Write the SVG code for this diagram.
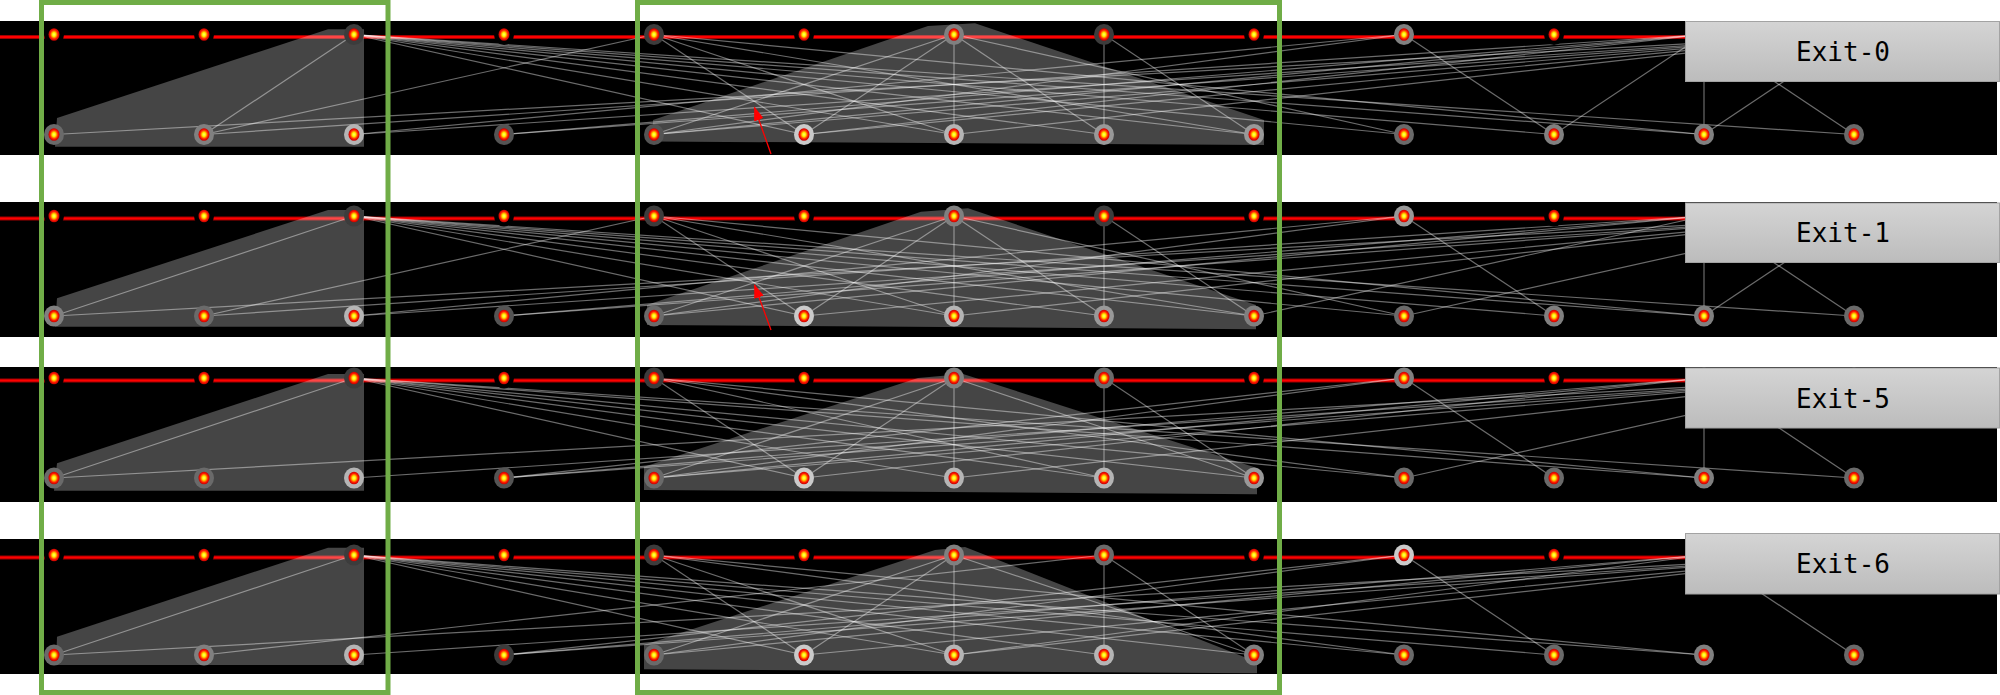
<svg xmlns="http://www.w3.org/2000/svg" xmlns:xlink="http://www.w3.org/1999/xlink" width="2000" height="695" viewBox="0 0 2000 695">
<defs>
<style>
.band{fill:#000}
.rl1{stroke:#a00000;stroke-width:4;fill:none}
.rl2{stroke:#ff0000;stroke-width:2;fill:none}
.reg{fill:#fff;fill-opacity:.27}
.e path{stroke:#fff;stroke-opacity:.42;stroke-width:1.2;fill:none}
.k{fill:#000}
.h1{fill:#3c3c3c}
.h2{fill:#545454}
.h3{fill:#6a6a6a}
.h4{fill:#808080}
.h5{fill:#999}
.h6{fill:#b5b5b5}
.h7{fill:#cacaca}
.box{fill:url(#bx);stroke:#a3a3a3;stroke-width:1}
.lbl{font-family:"DejaVu Sans Mono","Liberation Mono",monospace;font-size:26px;fill:#000;text-anchor:middle}
.frame{fill:none;stroke:#70ad47;stroke-width:5}
.arr{stroke:#ff0000;stroke-width:1.3;fill:none}
</style>
<radialGradient id="cg">
<stop offset="0" stop-color="#ffff70"/>
<stop offset="0.32" stop-color="#ffee00"/>
<stop offset="0.5" stop-color="#ff8a00"/>
<stop offset="0.72" stop-color="#ff1a00"/>
<stop offset="1" stop-color="#c00000"/>
</radialGradient>
<linearGradient id="bx" x1="0" y1="0" x2="0" y2="1">
<stop offset="0" stop-color="#d4d4d4"/>
<stop offset="1" stop-color="#bcbcbc"/>
</linearGradient>
<ellipse id="core" cx="0" cy="0" rx="5.5" ry="6.3" fill="url(#cg)"/>
<marker id="ah" markerWidth="14" markerHeight="10" refX="13" refY="5" orient="auto" markerUnits="userSpaceOnUse">
<path d="M0,0 L14,5 L0,10 z" fill="#ff0000"/>
</marker>
</defs>
<rect x="0" y="0" width="2000" height="695" fill="#fff"/>

<!-- Panel 1 -->
<g id="panel-1" transform="translate(0,34.5)">
<rect class="band" x="0" y="-13.5" width="1997" height="134"/>
<path class="rl1" d="M0 2.5H1690"/><path class="rl2" d="M0 2.5H1690"/>
<polygon class="reg" points="57,83.5 328,-5.2 364,-5.2 364,112.2 55,112.2"/>
<polygon class="reg" points="653,85.5 928,-8.5 975,-11.2 1264,85.5 1264,110.5 653,107"/>
<g id="connectors-1" class="e">
<path d="M354 0 204 100"/><path d="M354 0 804 100"/><path d="M354 0 954 100"/><path d="M354 0 1104 100"/><path d="M354 0 1254 100"/><path d="M354 0 1404 100"/><path d="M354 0 1554 100"/><path d="M354 0 1704 100"/><path d="M354 0 1854 100"/>
<path d="M1854 0 54 100"/><path d="M654 0 204 100"/><path d="M1704 0 204 100"/><path d="M1404 0 354 100"/><path d="M1854 0 354 100"/><path d="M1704 0 504 100"/><path d="M1854 0 504 100"/>
<path d="M654 0 804 100"/><path d="M654 0 954 100"/><path d="M654 0 1254 100"/><path d="M654 0 1704 100"/>
<path d="M954 0 654 100"/><path d="M954 0 804 100"/><path d="M954 0 954 100"/><path d="M954 0 1104 100"/><path d="M954 0 1404 100"/>
<path d="M1104 0 1104 100"/><path d="M1104 0 1254 100"/>
<path d="M1404 0 654 100"/><path d="M1704 0 654 100"/><path d="M1854 0 654 100"/><path d="M1704 0 804 100"/><path d="M1854 0 804 100"/><path d="M1854 0 954 100"/><path d="M1704 0 1554 100"/>
<path d="M1404 0 1554 100"/><path d="M1704 0 1704 100"/><path d="M1704 0 1854 100"/><path d="M1854 0 1704 100"/>
</g>
<g id="p1-t0"><ellipse class="k" cx="54" cy="0" rx="10" ry="10.5"/><use xlink:href="#core" x="54" y="0"/></g>
<g id="p1-t1"><ellipse class="k" cx="204" cy="0" rx="10" ry="10.5"/><use xlink:href="#core" x="204" y="0"/></g>
<g id="p1-t2"><ellipse class="h1" cx="354" cy="0" rx="10" ry="10.5"/><use xlink:href="#core" x="354" y="0"/></g>
<g id="p1-t3"><ellipse class="k" cx="504" cy="0" rx="10" ry="10.5"/><use xlink:href="#core" x="504" y="0"/></g>
<g id="p1-t4"><ellipse class="h1" cx="654" cy="0" rx="10" ry="10.5"/><use xlink:href="#core" x="654" y="0"/></g>
<g id="p1-t5"><ellipse class="k" cx="804" cy="0" rx="10" ry="10.5"/><use xlink:href="#core" x="804" y="0"/></g>
<g id="p1-t6"><ellipse class="h4" cx="954" cy="0" rx="10" ry="10.5"/><use xlink:href="#core" x="954" y="0"/></g>
<g id="p1-t7"><ellipse class="h1" cx="1104" cy="0" rx="10" ry="10.5"/><use xlink:href="#core" x="1104" y="0"/></g>
<g id="p1-t8"><ellipse class="k" cx="1254" cy="0" rx="10" ry="10.5"/><use xlink:href="#core" x="1254" y="0"/></g>
<g id="p1-t9"><ellipse class="h4" cx="1404" cy="0" rx="10" ry="10.5"/><use xlink:href="#core" x="1404" y="0"/></g>
<g id="p1-t10"><ellipse class="k" cx="1554" cy="0" rx="10" ry="10.5"/><use xlink:href="#core" x="1554" y="0"/></g>
<g id="p1-t11"><ellipse class="h1" cx="1704" cy="0" rx="10" ry="10.5"/><use xlink:href="#core" x="1704" y="0"/></g>
<g id="p1-t12"><ellipse class="h1" cx="1854" cy="0" rx="10" ry="10.5"/><use xlink:href="#core" x="1854" y="0"/></g>
<g id="p1-b0"><ellipse class="h3" cx="54" cy="100" rx="10" ry="10.5"/><use xlink:href="#core" x="54" y="100"/></g>
<g id="p1-b1"><ellipse class="h4" cx="204" cy="100" rx="10" ry="10.5"/><use xlink:href="#core" x="204" y="100"/></g>
<g id="p1-b2"><ellipse class="h6" cx="354" cy="100" rx="10" ry="10.5"/><use xlink:href="#core" x="354" y="100"/></g>
<g id="p1-b3"><ellipse class="h2" cx="504" cy="100" rx="10" ry="10.5"/><use xlink:href="#core" x="504" y="100"/></g>
<g id="p1-b4"><ellipse class="h2" cx="654" cy="100" rx="10" ry="10.5"/><use xlink:href="#core" x="654" y="100"/></g>
<g id="p1-b5"><ellipse class="h7" cx="804" cy="100" rx="10" ry="10.5"/><use xlink:href="#core" x="804" y="100"/></g>
<g id="p1-b6"><ellipse class="h6" cx="954" cy="100" rx="10" ry="10.5"/><use xlink:href="#core" x="954" y="100"/></g>
<g id="p1-b7"><ellipse class="h5" cx="1104" cy="100" rx="10" ry="10.5"/><use xlink:href="#core" x="1104" y="100"/></g>
<g id="p1-b8"><ellipse class="h5" cx="1254" cy="100" rx="10" ry="10.5"/><use xlink:href="#core" x="1254" y="100"/></g>
<g id="p1-b9"><ellipse class="h3" cx="1404" cy="100" rx="10" ry="10.5"/><use xlink:href="#core" x="1404" y="100"/></g>
<g id="p1-b10"><ellipse class="h4" cx="1554" cy="100" rx="10" ry="10.5"/><use xlink:href="#core" x="1554" y="100"/></g>
<g id="p1-b11"><ellipse class="h4" cx="1704" cy="100" rx="10" ry="10.5"/><use xlink:href="#core" x="1704" y="100"/></g>
<g id="p1-b12"><ellipse class="h3" cx="1854" cy="100" rx="10" ry="10.5"/><use xlink:href="#core" x="1854" y="100"/></g>
</g>

<!-- Panel 2 -->
<g id="panel-2" transform="translate(0,216)">
<rect class="band" x="0" y="-14" width="1997" height="135"/>
<path class="rl1" d="M0 2.5H1690"/><path class="rl2" d="M0 2.5H1690"/>
<polygon class="reg" points="57,82.3 328,-6 364,-6 364,110.7 55,110.7"/>
<polygon class="reg" points="647,89 921,-4.3 968,-7.7 1256,89 1256,113.3 647,109"/>
<g id="connectors-2" class="e">
<path d="M354 0 54 100"/><path d="M354 0 804 100"/><path d="M354 0 954 100"/><path d="M354 0 1104 100"/><path d="M354 0 1254 100"/><path d="M354 0 1404 100"/><path d="M354 0 1554 100"/><path d="M354 0 1704 100"/><path d="M354 0 1854 100"/>
<path d="M1854 0 54 100"/><path d="M654 0 204 100"/><path d="M1704 0 204 100"/><path d="M1404 0 354 100"/><path d="M1854 0 354 100"/><path d="M1704 0 504 100"/><path d="M1854 0 504 100"/>
<path d="M654 0 804 100"/><path d="M654 0 954 100"/><path d="M654 0 1254 100"/><path d="M654 0 1704 100"/>
<path d="M954 0 654 100"/><path d="M954 0 804 100"/><path d="M954 0 954 100"/><path d="M954 0 1104 100"/><path d="M954 0 1404 100"/>
<path d="M1104 0 1104 100"/><path d="M1104 0 1254 100"/>
<path d="M1404 0 654 100"/><path d="M1704 0 654 100"/><path d="M1854 0 804 100"/><path d="M1854 0 954 100"/><path d="M1704 0 1254 100"/>
<path d="M1404 0 1554 100"/><path d="M1854 0 1404 100"/><path d="M1704 0 1704 100"/><path d="M1704 0 1854 100"/><path d="M1854 0 1704 100"/>
</g>
<g id="p2-t0"><ellipse class="k" cx="54" cy="0" rx="10" ry="10.5"/><use xlink:href="#core" x="54" y="0"/></g>
<g id="p2-t1"><ellipse class="k" cx="204" cy="0" rx="10" ry="10.5"/><use xlink:href="#core" x="204" y="0"/></g>
<g id="p2-t2"><ellipse class="h1" cx="354" cy="0" rx="10" ry="10.5"/><use xlink:href="#core" x="354" y="0"/></g>
<g id="p2-t3"><ellipse class="k" cx="504" cy="0" rx="10" ry="10.5"/><use xlink:href="#core" x="504" y="0"/></g>
<g id="p2-t4"><ellipse class="h1" cx="654" cy="0" rx="10" ry="10.5"/><use xlink:href="#core" x="654" y="0"/></g>
<g id="p2-t5"><ellipse class="k" cx="804" cy="0" rx="10" ry="10.5"/><use xlink:href="#core" x="804" y="0"/></g>
<g id="p2-t6"><ellipse class="h4" cx="954" cy="0" rx="10" ry="10.5"/><use xlink:href="#core" x="954" y="0"/></g>
<g id="p2-t7"><ellipse class="h1" cx="1104" cy="0" rx="10" ry="10.5"/><use xlink:href="#core" x="1104" y="0"/></g>
<g id="p2-t8"><ellipse class="k" cx="1254" cy="0" rx="10" ry="10.5"/><use xlink:href="#core" x="1254" y="0"/></g>
<g id="p2-t9"><ellipse class="h5" cx="1404" cy="0" rx="10" ry="10.5"/><use xlink:href="#core" x="1404" y="0"/></g>
<g id="p2-t10"><ellipse class="k" cx="1554" cy="0" rx="10" ry="10.5"/><use xlink:href="#core" x="1554" y="0"/></g>
<g id="p2-t11"><ellipse class="h1" cx="1704" cy="0" rx="10" ry="10.5"/><use xlink:href="#core" x="1704" y="0"/></g>
<g id="p2-t12"><ellipse class="h1" cx="1854" cy="0" rx="10" ry="10.5"/><use xlink:href="#core" x="1854" y="0"/></g>
<g id="p2-b0"><ellipse class="h4" cx="54" cy="100" rx="10" ry="10.5"/><use xlink:href="#core" x="54" y="100"/></g>
<g id="p2-b1"><ellipse class="h3" cx="204" cy="100" rx="10" ry="10.5"/><use xlink:href="#core" x="204" y="100"/></g>
<g id="p2-b2"><ellipse class="h6" cx="354" cy="100" rx="10" ry="10.5"/><use xlink:href="#core" x="354" y="100"/></g>
<g id="p2-b3"><ellipse class="h2" cx="504" cy="100" rx="10" ry="10.5"/><use xlink:href="#core" x="504" y="100"/></g>
<g id="p2-b4"><ellipse class="h3" cx="654" cy="100" rx="10" ry="10.5"/><use xlink:href="#core" x="654" y="100"/></g>
<g id="p2-b5"><ellipse class="h7" cx="804" cy="100" rx="10" ry="10.5"/><use xlink:href="#core" x="804" y="100"/></g>
<g id="p2-b6"><ellipse class="h6" cx="954" cy="100" rx="10" ry="10.5"/><use xlink:href="#core" x="954" y="100"/></g>
<g id="p2-b7"><ellipse class="h5" cx="1104" cy="100" rx="10" ry="10.5"/><use xlink:href="#core" x="1104" y="100"/></g>
<g id="p2-b8"><ellipse class="h4" cx="1254" cy="100" rx="10" ry="10.5"/><use xlink:href="#core" x="1254" y="100"/></g>
<g id="p2-b9"><ellipse class="h3" cx="1404" cy="100" rx="10" ry="10.5"/><use xlink:href="#core" x="1404" y="100"/></g>
<g id="p2-b10"><ellipse class="h4" cx="1554" cy="100" rx="10" ry="10.5"/><use xlink:href="#core" x="1554" y="100"/></g>
<g id="p2-b11"><ellipse class="h4" cx="1704" cy="100" rx="10" ry="10.5"/><use xlink:href="#core" x="1704" y="100"/></g>
<g id="p2-b12"><ellipse class="h3" cx="1854" cy="100" rx="10" ry="10.5"/><use xlink:href="#core" x="1854" y="100"/></g>
</g>

<!-- Panel 3 -->
<g id="panel-3" transform="translate(0,378)">
<rect class="band" x="0" y="-11" width="1997" height="135"/>
<path class="rl1" d="M0 2.5H1690"/><path class="rl2" d="M0 2.5H1690"/>
<polygon class="reg" points="57,85.3 328,-4 364,-4 364,112.7 54,112.7"/>
<polygon class="reg" points="644,88.7 918,0 963,-4 1257,90 1257,116.3 644,112"/>
<g id="connectors-3" class="e">
<path d="M354 0 54 100"/><path d="M354 0 804 100"/><path d="M354 0 954 100"/><path d="M354 0 1104 100"/><path d="M354 0 1254 100"/><path d="M354 0 1404 100"/><path d="M354 0 1704 100"/><path d="M354 0 1854 100"/>
<path d="M1854 0 54 100"/><path d="M1854 0 354 100"/><path d="M1404 0 504 100"/><path d="M1704 0 504 100"/><path d="M1854 0 504 100"/>
<path d="M654 0 804 100"/><path d="M654 0 1104 100"/><path d="M654 0 1404 100"/><path d="M654 0 1704 100"/>
<path d="M954 0 654 100"/><path d="M954 0 804 100"/><path d="M954 0 954 100"/><path d="M954 0 1254 100"/>
<path d="M1104 0 1104 100"/><path d="M1104 0 1254 100"/>
<path d="M1404 0 654 100"/><path d="M1704 0 654 100"/><path d="M1854 0 654 100"/><path d="M1704 0 804 100"/><path d="M1854 0 954 100"/>
<path d="M1404 0 1554 100"/><path d="M1854 0 1404 100"/><path d="M1704 0 1704 100"/><path d="M1704 0 1854 100"/>
</g>
<g id="p3-t0"><ellipse class="k" cx="54" cy="0" rx="10" ry="10.5"/><use xlink:href="#core" x="54" y="0"/></g>
<g id="p3-t1"><ellipse class="k" cx="204" cy="0" rx="10" ry="10.5"/><use xlink:href="#core" x="204" y="0"/></g>
<g id="p3-t2"><ellipse class="h1" cx="354" cy="0" rx="10" ry="10.5"/><use xlink:href="#core" x="354" y="0"/></g>
<g id="p3-t3"><ellipse class="k" cx="504" cy="0" rx="10" ry="10.5"/><use xlink:href="#core" x="504" y="0"/></g>
<g id="p3-t4"><ellipse class="h1" cx="654" cy="0" rx="10" ry="10.5"/><use xlink:href="#core" x="654" y="0"/></g>
<g id="p3-t5"><ellipse class="k" cx="804" cy="0" rx="10" ry="10.5"/><use xlink:href="#core" x="804" y="0"/></g>
<g id="p3-t6"><ellipse class="h4" cx="954" cy="0" rx="10" ry="10.5"/><use xlink:href="#core" x="954" y="0"/></g>
<g id="p3-t7"><ellipse class="h3" cx="1104" cy="0" rx="10" ry="10.5"/><use xlink:href="#core" x="1104" y="0"/></g>
<g id="p3-t8"><ellipse class="k" cx="1254" cy="0" rx="10" ry="10.5"/><use xlink:href="#core" x="1254" y="0"/></g>
<g id="p3-t9"><ellipse class="h4" cx="1404" cy="0" rx="10" ry="10.5"/><use xlink:href="#core" x="1404" y="0"/></g>
<g id="p3-t10"><ellipse class="k" cx="1554" cy="0" rx="10" ry="10.5"/><use xlink:href="#core" x="1554" y="0"/></g>
<g id="p3-t11"><ellipse class="h1" cx="1704" cy="0" rx="10" ry="10.5"/><use xlink:href="#core" x="1704" y="0"/></g>
<g id="p3-t12"><ellipse class="h1" cx="1854" cy="0" rx="10" ry="10.5"/><use xlink:href="#core" x="1854" y="0"/></g>
<g id="p3-b0"><ellipse class="h3" cx="54" cy="100" rx="10" ry="10.5"/><use xlink:href="#core" x="54" y="100"/></g>
<g id="p3-b1"><ellipse class="h3" cx="204" cy="100" rx="10" ry="10.5"/><use xlink:href="#core" x="204" y="100"/></g>
<g id="p3-b2"><ellipse class="h6" cx="354" cy="100" rx="10" ry="10.5"/><use xlink:href="#core" x="354" y="100"/></g>
<g id="p3-b3"><ellipse class="h2" cx="504" cy="100" rx="10" ry="10.5"/><use xlink:href="#core" x="504" y="100"/></g>
<g id="p3-b4"><ellipse class="h3" cx="654" cy="100" rx="10" ry="10.5"/><use xlink:href="#core" x="654" y="100"/></g>
<g id="p3-b5"><ellipse class="h7" cx="804" cy="100" rx="10" ry="10.5"/><use xlink:href="#core" x="804" y="100"/></g>
<g id="p3-b6"><ellipse class="h6" cx="954" cy="100" rx="10" ry="10.5"/><use xlink:href="#core" x="954" y="100"/></g>
<g id="p3-b7"><ellipse class="h6" cx="1104" cy="100" rx="10" ry="10.5"/><use xlink:href="#core" x="1104" y="100"/></g>
<g id="p3-b8"><ellipse class="h5" cx="1254" cy="100" rx="10" ry="10.5"/><use xlink:href="#core" x="1254" y="100"/></g>
<g id="p3-b9"><ellipse class="h3" cx="1404" cy="100" rx="10" ry="10.5"/><use xlink:href="#core" x="1404" y="100"/></g>
<g id="p3-b10"><ellipse class="h3" cx="1554" cy="100" rx="10" ry="10.5"/><use xlink:href="#core" x="1554" y="100"/></g>
<g id="p3-b11"><ellipse class="h4" cx="1704" cy="100" rx="10" ry="10.5"/><use xlink:href="#core" x="1704" y="100"/></g>
<g id="p3-b12"><ellipse class="h3" cx="1854" cy="100" rx="10" ry="10.5"/><use xlink:href="#core" x="1854" y="100"/></g>
</g>

<!-- Panel 4 -->
<g id="panel-4" transform="translate(0,555)">
<rect class="band" x="0" y="-16" width="1997" height="135"/>
<path class="rl1" d="M0 2.5H1690"/><path class="rl2" d="M0 2.5H1690"/>
<polygon class="reg" points="57,81.7 328,-7.3 364,-7.3 364,110 56,110"/>
<polygon class="reg" points="644,90 935,-5 965,-8 1257,107 1257,118.3 644,114.3"/>
<g id="connectors-4" class="e">
<path d="M354 0 54 100"/><path d="M354 0 804 100"/><path d="M354 0 954 100"/><path d="M354 0 1104 100"/><path d="M354 0 1254 100"/><path d="M354 0 1404 100"/><path d="M354 0 1554 100"/><path d="M354 0 1704 100"/>
<path d="M1854 0 54 100"/><path d="M1104 0 204 100"/><path d="M1854 0 354 100"/><path d="M1704 0 504 100"/><path d="M1854 0 504 100"/><path d="M1404 0 504 100"/>
<path d="M654 0 804 100"/><path d="M654 0 954 100"/><path d="M654 0 1404 100"/><path d="M654 0 1704 100"/>
<path d="M954 0 654 100"/><path d="M954 0 804 100"/><path d="M954 0 954 100"/><path d="M954 0 1254 100"/>
<path d="M1104 0 1104 100"/><path d="M1104 0 1254 100"/>
<path d="M1404 0 654 100"/><path d="M1704 0 654 100"/><path d="M1854 0 804 100"/><path d="M1704 0 954 100"/><path d="M1854 0 954 100"/>
<path d="M1404 0 1554 100"/><path d="M1704 0 1854 100"/>
</g>
<g id="p4-t0"><ellipse class="k" cx="54" cy="0" rx="10" ry="10.5"/><use xlink:href="#core" x="54" y="0"/></g>
<g id="p4-t1"><ellipse class="k" cx="204" cy="0" rx="10" ry="10.5"/><use xlink:href="#core" x="204" y="0"/></g>
<g id="p4-t2"><ellipse class="h1" cx="354" cy="0" rx="10" ry="10.5"/><use xlink:href="#core" x="354" y="0"/></g>
<g id="p4-t3"><ellipse class="k" cx="504" cy="0" rx="10" ry="10.5"/><use xlink:href="#core" x="504" y="0"/></g>
<g id="p4-t4"><ellipse class="h1" cx="654" cy="0" rx="10" ry="10.5"/><use xlink:href="#core" x="654" y="0"/></g>
<g id="p4-t5"><ellipse class="k" cx="804" cy="0" rx="10" ry="10.5"/><use xlink:href="#core" x="804" y="0"/></g>
<g id="p4-t6"><ellipse class="h4" cx="954" cy="0" rx="10" ry="10.5"/><use xlink:href="#core" x="954" y="0"/></g>
<g id="p4-t7"><ellipse class="h3" cx="1104" cy="0" rx="10" ry="10.5"/><use xlink:href="#core" x="1104" y="0"/></g>
<g id="p4-t8"><ellipse class="k" cx="1254" cy="0" rx="10" ry="10.5"/><use xlink:href="#core" x="1254" y="0"/></g>
<g id="p4-t9"><ellipse class="h7" cx="1404" cy="0" rx="10" ry="10.5"/><use xlink:href="#core" x="1404" y="0"/></g>
<g id="p4-t10"><ellipse class="k" cx="1554" cy="0" rx="10" ry="10.5"/><use xlink:href="#core" x="1554" y="0"/></g>
<g id="p4-t11"><ellipse class="h1" cx="1704" cy="0" rx="10" ry="10.5"/><use xlink:href="#core" x="1704" y="0"/></g>
<g id="p4-t12"><ellipse class="h1" cx="1854" cy="0" rx="10" ry="10.5"/><use xlink:href="#core" x="1854" y="0"/></g>
<g id="p4-b0"><ellipse class="h3" cx="54" cy="100" rx="10" ry="10.5"/><use xlink:href="#core" x="54" y="100"/></g>
<g id="p4-b1"><ellipse class="h4" cx="204" cy="100" rx="10" ry="10.5"/><use xlink:href="#core" x="204" y="100"/></g>
<g id="p4-b2"><ellipse class="h6" cx="354" cy="100" rx="10" ry="10.5"/><use xlink:href="#core" x="354" y="100"/></g>
<g id="p4-b3"><ellipse class="h1" cx="504" cy="100" rx="10" ry="10.5"/><use xlink:href="#core" x="504" y="100"/></g>
<g id="p4-b4"><ellipse class="h3" cx="654" cy="100" rx="10" ry="10.5"/><use xlink:href="#core" x="654" y="100"/></g>
<g id="p4-b5"><ellipse class="h7" cx="804" cy="100" rx="10" ry="10.5"/><use xlink:href="#core" x="804" y="100"/></g>
<g id="p4-b6"><ellipse class="h6" cx="954" cy="100" rx="10" ry="10.5"/><use xlink:href="#core" x="954" y="100"/></g>
<g id="p4-b7"><ellipse class="h6" cx="1104" cy="100" rx="10" ry="10.5"/><use xlink:href="#core" x="1104" y="100"/></g>
<g id="p4-b8"><ellipse class="h4" cx="1254" cy="100" rx="10" ry="10.5"/><use xlink:href="#core" x="1254" y="100"/></g>
<g id="p4-b9"><ellipse class="h3" cx="1404" cy="100" rx="10" ry="10.5"/><use xlink:href="#core" x="1404" y="100"/></g>
<g id="p4-b10"><ellipse class="h3" cx="1554" cy="100" rx="10" ry="10.5"/><use xlink:href="#core" x="1554" y="100"/></g>
<g id="p4-b11"><ellipse class="h4" cx="1704" cy="100" rx="10" ry="10.5"/><use xlink:href="#core" x="1704" y="100"/></g>
<g id="p4-b12"><ellipse class="h3" cx="1854" cy="100" rx="10" ry="10.5"/><use xlink:href="#core" x="1854" y="100"/></g>
</g>

<!-- Exit boxes -->
<g id="exit-0"><rect class="box" x="1685.5" y="21.5" width="314" height="60"/><text class="lbl" x="1843" y="61">Exit-0</text></g>
<g id="exit-1"><rect class="box" x="1685.5" y="203" width="314" height="59.5"/><text class="lbl" x="1843" y="242">Exit-1</text></g>
<g id="exit-5"><rect class="box" x="1685.5" y="368" width="314" height="60"/><text class="lbl" x="1843" y="407.5">Exit-5</text></g>
<g id="exit-6"><rect class="box" x="1685.5" y="533.5" width="314" height="60.5"/><text class="lbl" x="1843" y="573">Exit-6</text></g>

<!-- Red arrows -->
<g id="arrows">
<path class="arr" d="M771 154 L754.5 107.5" marker-end="url(#ah)"/>
<path class="arr" d="M771 330 L754.5 285" marker-end="url(#ah)"/>
</g>

<!-- Green frames -->
<g id="frames">
<rect class="frame" x="41.5" y="2.5" width="346.5" height="690"/>
<rect class="frame" x="637.5" y="2.5" width="642" height="690"/>
</g>
</svg>
